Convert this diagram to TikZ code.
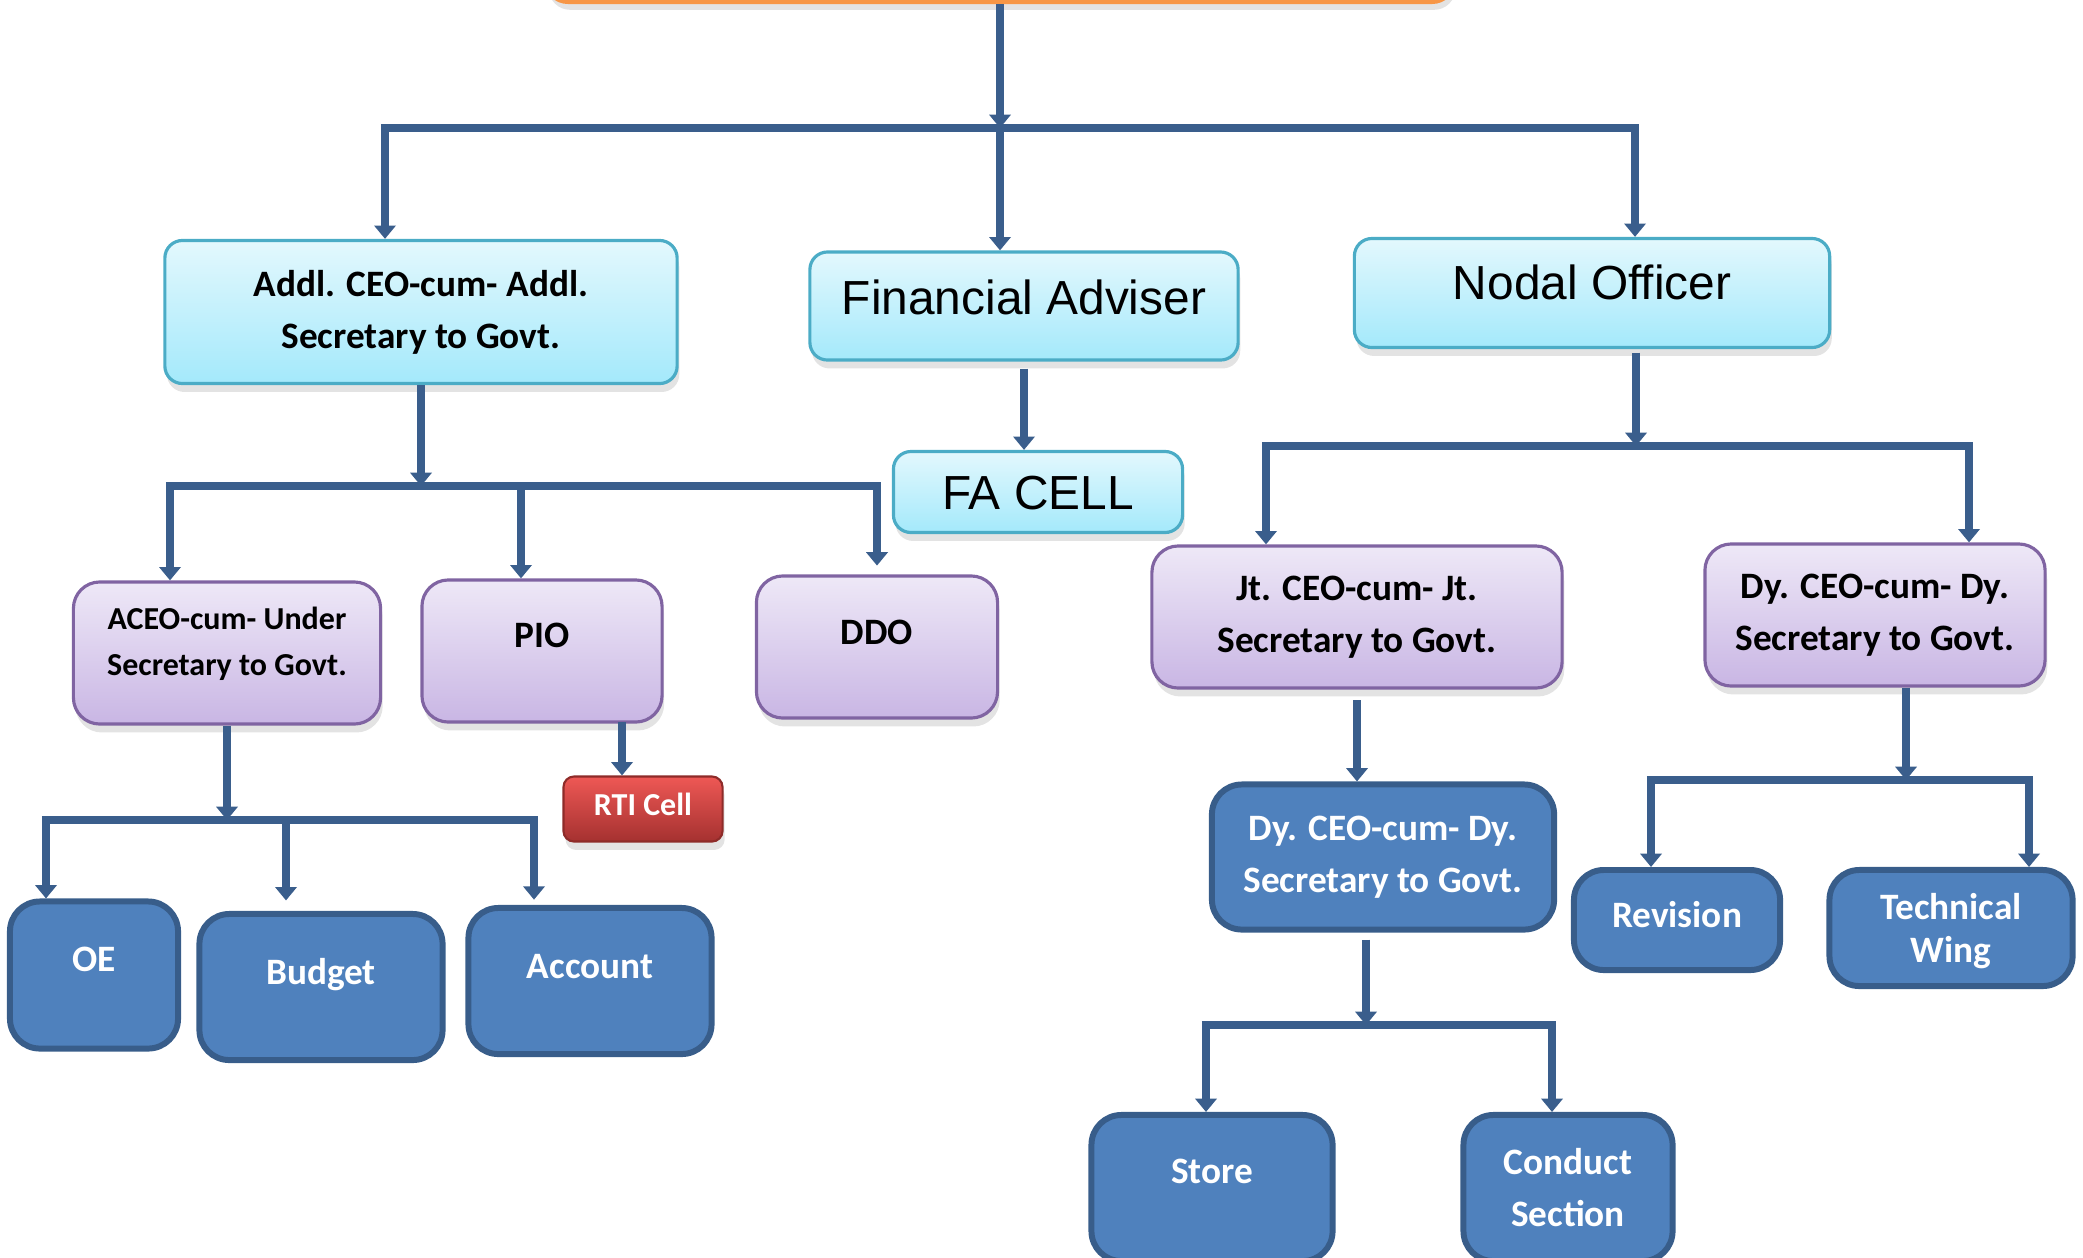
\documentclass[tikz,border=0pt]{standalone}
\usepackage{fontspec}
\newfontfamily\calfont{Carlito}
\newfontfamily\arfont{Liberation Sans}
\usetikzlibrary{arrows.meta,shadows}
\definecolor{lnk}{HTML}{3A5E8C}
\definecolor{cyTop}{HTML}{E3F8FD}
\definecolor{cyBot}{HTML}{A4E9FB}
\definecolor{cyLine}{HTML}{4BACC6}
\definecolor{puTop}{HTML}{EEE8F7}
\definecolor{puBot}{HTML}{C9B6E4}
\definecolor{puLine}{HTML}{8064A2}
\definecolor{blFill}{HTML}{4F81BD}
\definecolor{blLine}{HTML}{385D8A}
\definecolor{rdTop}{HTML}{EE5855}
\definecolor{rdBot}{HTML}{A53130}
\definecolor{rdLine}{HTML}{8E2B29}
\definecolor{orFill}{HTML}{FAB27A}
\definecolor{orLine}{HTML}{F79646}
\begin{document}
\begin{tikzpicture}[x=.01cm, y=-.01cm, >={Triangle[width=6pt,length=3.8pt]}, line join=round,
    link/.style={draw=lnk, line width=2.4pt},
    bar/.style={draw=lnk, line width=2.1pt, shorten <=-1.2pt, shorten >=-1.2pt},
    shade/.style={drop shadow={shadow xshift=.6pt, shadow yshift=-2.4pt, opacity=.22}},
    cal/.style={font=\calfont\bfseries\fontsize{10.6}{14.8}\selectfont},
    arial/.style={font=\arfont\fontsize{13.6}{16}\selectfont, text height=9.7pt},
    lift/.style={text height=6.8pt, text depth=#1},
    cyanbox/.style={shade, draw=cyLine, line width=.9pt, top color=cyTop, bottom color=cyBot,
        rounded corners=5pt, align=center, inner sep=0pt, cal},
    purbox/.style={shade, draw=puLine, line width=.9pt, top color=puTop, bottom color=puBot,
        rounded corners=7.5pt, align=center, inner sep=0pt, cal},
    bluebox/.style={draw=blLine, line width=1.7pt, fill=blFill, text=white,
        rounded corners=8.5pt, align=center, inner sep=0pt, cal},
    rtibox/.style={shade, draw=rdLine, line width=.6pt, top color=rdTop, bottom color=rdBot, text=white,
        rounded corners=3pt, inner sep=0pt, font=\calfont\bfseries\fontsize{9.1}{11}\selectfont}]
\useasboundingbox (0,0) rectangle (2083,1257);
\clip (0,0) rectangle (2083,1257);

\node[shade, draw=orLine, fill=orFill, line width=1.5pt, rounded corners=6pt, anchor=south,
    minimum width=9.06cm, minimum height=1cm] (head) at (1000,4) {};

\node[cyanbox, minimum width=5.12cm, minimum height=1.43cm] (addl) at (421,312) {Addl. CEO-cum- Addl.\\Secretary to Govt.};
\node[cyanbox, arial, text depth=5.1pt, minimum width=4.28cm, minimum height=1.08cm] (fa) at (1024,306) {Financial Adviser};
\node[cyanbox, arial, text depth=6pt, minimum width=4.75cm, minimum height=1.09cm] (nodal) at (1592,293) {Nodal Officer};
\node[cyanbox, arial, text depth=0pt, minimum width=2.89cm, minimum height=.81cm] (facell) at (1038,492) {FA CELL};

\node[purbox, font=\calfont\bfseries\fontsize{9.1}{13.1}\selectfont, text depth=6.5pt, minimum width=3.07cm, minimum height=1.42cm] (aceo) at (227,653) {ACEO-cum- Under\\Secretary to Govt.};
\node[purbox, lift=9pt, minimum width=2.4cm, minimum height=1.42cm] (pio) at (542,651) {PIO};
\node[purbox, lift=8.5pt, minimum width=2.41cm, minimum height=1.42cm] (ddo) at (877,647) {DDO};
\node[rtibox, text height=5.9pt, text depth=2.3pt, minimum width=1.59cm, minimum height=.65cm] (rti) at (643,809) {RTI Cell};
\node[purbox, minimum width=4.1cm, minimum height=1.42cm] (jt) at (1357,617) {Jt. CEO-cum- Jt.\\Secretary to Govt.};
\node[purbox, minimum width=3.4cm, minimum height=1.42cm] (dyp) at (1875,615) {Dy. CEO-cum- Dy.\\Secretary to Govt.};

\node[bluebox, lift=8.8pt, minimum width=1.68cm, minimum height=1.47cm] (oe) at (94,975) {OE};
\node[bluebox, lift=8.5pt, minimum width=2.43cm, minimum height=1.46cm] (budget) at (321,987) {Budget};
\node[bluebox, lift=8pt, minimum width=2.43cm, minimum height=1.46cm] (account) at (590,981) {Account};
\node[bluebox, minimum width=3.42cm, minimum height=1.45cm] (dyb) at (1383,857) {Dy. CEO-cum- Dy.\\Secretary to Govt.};
\node[bluebox, lift=2.8pt, minimum width=2.06cm, minimum height=1cm] (rev) at (1677,920) {Revision};
\node[bluebox, font=\calfont\bfseries\fontsize{10.6}{12.2}\selectfont, text depth=0pt, minimum width=2.43cm, minimum height=1.16cm] (tech) at (1951,928) {Technical\\Wing};
\node[bluebox, lift=9.1pt, minimum width=2.41cm, minimum height=1.46cm] (store) at (1212,1188) {Store};
\node[bluebox, minimum width=2.09cm, minimum height=1.46cm] (conduct) at (1568,1188) {Conduct\\Section};

\coordinate (b1l) at (385,128);
\coordinate (b1r) at (1635,128);
\draw[->, link] (head.south) -- (head.south |- b1l);
\draw[bar] (b1l) -- (b1r);
\draw[->, link] (b1l) -- (b1l |- addl.north);
\draw[->, link] (head.south |- b1l) -- (head.south |- fa.north);
\draw[->, link] (b1r) -- (b1r |- nodal.north);

\coordinate (b2a) at (170,486);
\coordinate (b2b) at (521,486);
\coordinate (b2c) at (877,486);
\draw[->, link] (addl.south) -- (addl.south |- b2a);
\draw[bar] (b2a) -- (b2c);
\draw[->, link] (b2a) -- (b2a |- aceo.north);
\draw[->, link] (b2b) -- (b2b |- pio.north);
\draw[->, link, shorten >=2.5pt] (b2c) -- (b2c |- ddo.north);
\draw[->, link, shorten <=2pt] (fa.south) -- (fa.south |- facell.north);
\coordinate (p1) at (622,722);
\draw[->, link] (p1) -- (p1 |- rti.north);

\coordinate (b6a) at (46,820);
\coordinate (b6b) at (286,820);
\coordinate (b6c) at (534,820);
\draw[->, link] (aceo.south) -- (aceo.south |- b6a);
\draw[bar] (b6a) -- (b6c);
\draw[->, link] (b6a) -- (b6a |- oe.north);
\draw[->, link, shorten >=3pt] (b6b) -- (b6b |- budget.north);
\draw[->, link, shorten >=1.5pt] (b6c) -- (b6c |- account.north);

\coordinate (b3m) at (1636,446);
\coordinate (b3a) at (1266,446);
\coordinate (b3b) at (1969,446);
\draw[->, link, shorten <=1pt] (b3m |- nodal.south) -- (b3m);
\draw[bar] (b3a) -- (b3b);
\draw[->, link] (b3a) -- (b3a |- jt.north);
\draw[->, link] (b3b) -- (b3b |- dyp.north);
\draw[->, link, shorten <=3pt] (jt.south) -- (jt.south |- dyb.north);

\coordinate (b4m) at (1906,780);
\coordinate (b4a) at (1651,780);
\coordinate (b4b) at (2029,780);
\draw[->, link] (b4m |- dyp.south) -- (b4m);
\draw[bar] (b4a) -- (b4b);
\draw[->, link] (b4a) -- (b4a |- rev.north);
\draw[->, link] (b4b) -- (b4b |- tech.north);

\coordinate (b5m) at (1366,1025);
\coordinate (b5a) at (1206,1025);
\coordinate (b5b) at (1552,1025);
\draw[->, link, shorten <=2pt] (b5m |- dyb.south) -- (b5m);
\draw[bar] (b5a) -- (b5b);
\draw[->, link] (b5a) -- (b5a |- store.north);
\draw[->, link] (b5b) -- (b5b |- conduct.north);
\end{tikzpicture}
\end{document}
